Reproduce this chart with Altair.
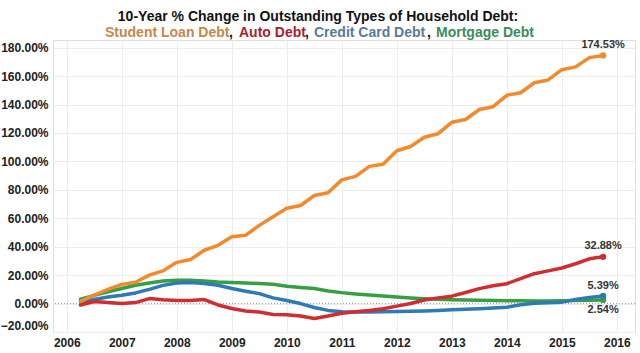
import altair as alt
import pandas as pd

# Quarterly observations (decimal years)
quarters = [2006.25, 2006.5, 2006.75, 2007.0, 2007.25, 2007.5, 2007.75, 2008.0, 2008.25, 2008.5,
            2008.75, 2009.0, 2009.25, 2009.5, 2009.75, 2010.0, 2010.25, 2010.5, 2010.75, 2011.0,
            2011.25, 2011.5, 2011.75, 2012.0, 2012.25, 2012.5, 2012.75, 2013.0, 2013.25, 2013.5,
            2013.75, 2014.0, 2014.25, 2014.5, 2014.75, 2015.0, 2015.25, 2015.5, 2015.75]

student = [1.5, 6.0, 10.0, 13.5, 15.0, 20.0, 23.0, 29.0, 31.0, 37.5,
           41.0, 47.0, 48.0, 55.0, 61.0, 67.0, 69.0, 76.0, 78.0, 87.0,
           89.5, 96.5, 98.0, 107.5, 110.5, 117.0, 119.5, 127.5, 129.5, 136.5,
           138.5, 146.5, 148.3, 155.3, 157.3, 164.5, 166.5, 173.0, 174.53]

auto = [-1.0, 1.5, 0.8, 0.0, 0.7, 3.5, 2.7, 2.2, 2.2, 2.8,
        -1.0, -3.5, -5.2, -6.0, -7.7, -7.8, -8.8, -10.5, -8.7, -6.8,
        -5.7, -4.9, -3.7, -1.8, 0.0, 2.5, 4.0, 5.2, 7.8, 10.5,
        12.5, 14.0, 17.5, 21.0, 23.0, 25.0, 28.0, 31.5, 32.88]

credit = [1.0, 2.8, 4.6, 5.8, 7.5, 10.0, 12.8, 14.5, 14.8, 14.1,
          12.9, 10.6, 8.7, 7.0, 4.0, 2.2, 0.0, -2.8, -4.8, -5.8,
          -6.0, -6.0, -5.8, -5.6, -5.4, -5.2, -4.8, -4.4, -4.0, -3.7,
          -3.2, -2.6, -0.8, 0.2, 0.6, 1.0, 2.8, 4.3, 5.39]

mortgage = [3.0, 5.8, 8.2, 10.6, 12.9, 14.5, 15.9, 16.4, 16.4, 15.9,
            15.2, 14.8, 14.5, 14.1, 13.6, 12.2, 11.3, 10.6, 8.9, 7.7,
            6.8, 6.0, 5.3, 4.6, 4.0, 3.4, 3.0, 2.7, 2.5, 2.3,
            2.1, 2.0, 1.9, 1.8, 1.8, 1.9, 2.1, 2.3, 2.54]

series_names = ["Student Loan Debt", "Auto Debt", "Credit Card Debt", "Mortgage Debt"]
series_values = [student, auto, credit, mortgage]
line_colors = ["#F28A2C", "#CF2E31", "#2F79B5", "#35A043"]
title_colors = ["#C4874C", "#A81E30", "#5A7B96", "#3B8C5A"]
end_labels = ["174.53%", "32.88%", "5.39%", "2.54%"]
year_ticks = [2006, 2007, 2008, 2009, 2010, 2011, 2012, 2013, 2014, 2015, 2016]
pct_ticks = [-20, 0, 20, 40, 60, 80, 100, 120, 140, 160, 180]

rows = []
for name, vals, lab in zip(series_names, series_values, end_labels):
    for i, (t, v) in enumerate(zip(quarters, vals)):
        rows.append({"t": t, "v": v, "s": name, "last": i == len(vals) - 1, "lab": lab})
df = pd.DataFrame(rows)

xs = alt.Scale(domain=[2005.75, 2016.33], nice=False, zero=False)
ys = alt.Scale(domain=[-20, 185.4], nice=False, zero=False)
FONT = "Liberation Sans"

x_axis = alt.Axis(values=year_ticks, format="d", title=None, ticks=False, domain=False,
                  labelFont=FONT, labelFontSize=12, labelFontWeight="bold", labelColor="#222222",
                  labelPadding=5, gridColor="#ececec", gridWidth=1, labelFlush=False,
                  labelOverlap=False)
y_axis = alt.Axis(values=pct_ticks, title=None, ticks=False, domain=False,
                  labelExpr="format(datum.value, '.2f') + '%'",
                  labelFont=FONT, labelFontSize=12, labelFontWeight="bold", labelColor="#222222",
                  labelPadding=5, gridColor="#ececec", gridWidth=1, labelFlush=True,
                  labelOverlap=False)

base = alt.Chart(df)

grid = base.mark_line(opacity=0).encode(
    x=alt.X("t:Q", scale=xs, axis=x_axis),
    y=alt.Y("v:Q", scale=ys, axis=y_axis),
)

zero = alt.Chart(pd.DataFrame({"z": [0]})).mark_rule(
    color="#9a9a9a", strokeDash=[1, 2], strokeWidth=1
).encode(y=alt.Y("z:Q", scale=ys, axis=y_axis))

layers = [grid, zero]
order = [3, 2, 1, 0]
for k in order:
    name = series_names[k]
    sub = base.transform_filter(alt.datum.s == name)
    layers.append(sub.mark_line(strokeWidth=3.5, color=line_colors[k], strokeCap="round",
                                strokeJoin="round").encode(
        x=alt.X("t:Q", scale=xs, axis=x_axis), y=alt.Y("v:Q", scale=ys, axis=y_axis)))
    layers.append(sub.transform_filter(alt.datum.last).mark_circle(
        size=40, color=line_colors[k], opacity=1).encode(
        x=alt.X("t:Q", scale=xs, axis=x_axis), y=alt.Y("v:Q", scale=ys, axis=y_axis)))

label_dy = [-10, -11, -10, 10]
for k in range(4):
    name = series_names[k]
    layers.append(base.transform_filter((alt.datum.s == name) & alt.datum.last).mark_text(
        font=FONT, fontSize=11, fontWeight="bold", color="#333333", dy=label_dy[k]
    ).encode(x=alt.X("t:Q", scale=xs, axis=x_axis), y=alt.Y("v:Q", scale=ys, axis=y_axis),
             text="lab:N"))

# Title (two lines, second line multi-coloured)
title_df = pd.DataFrame({"a": [0]})
def title_text(txt, x, y, color, align="left"):
    return alt.Chart(title_df).mark_text(
        text=txt, font=FONT, fontSize=14, fontWeight="bold", color=color, align=align,
        baseline="alphabetic"
    ).encode(x=alt.value(x), y=alt.value(y))

layers.append(title_text("10-Year % Change in Outstanding Types of Household Debt:", 265, -19, "#111111", "center"))
layers.append(title_text("Student Loan Debt", 52, -3, title_colors[0]))
layers.append(title_text(",", 176, -3, "#111111"))
layers.append(title_text("Auto Debt", 186, -3, title_colors[1]))
layers.append(title_text(",", 252, -3, "#111111"))
layers.append(title_text("Credit Card Debt", 261, -3, title_colors[2]))
layers.append(title_text(",", 374, -3, "#111111"))
layers.append(title_text("Mortgage Debt", 383, -3, title_colors[3]))

chart = alt.layer(*layers).properties(
    width=582, height=292,
    padding={"left": 53, "top": 40, "right": 5, "bottom": 21},
    autosize=alt.AutoSizeParams(type="none"),
).configure_view(stroke="#dcdcdc", strokeWidth=1).configure_axis(
    labelOverlap=False
).configure(background="white")

chart.save("out.html", embed_options={"renderer": "svg", "actions": False})
